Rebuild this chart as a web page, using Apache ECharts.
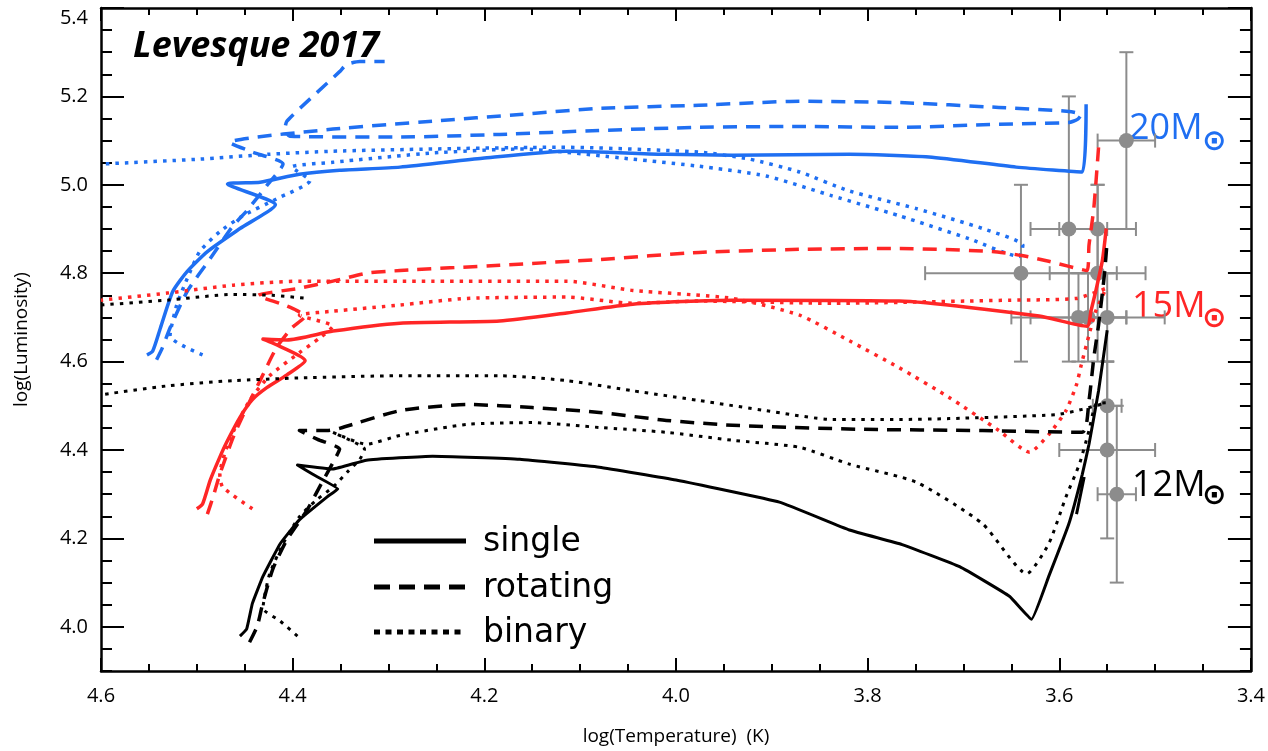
<!DOCTYPE html>
<html>
<head>
<meta charset="utf-8">
<title>HR diagram – evolutionary tracks</title>
<script src="https://cdn.jsdelivr.net/npm/echarts/dist/echarts.min.js"></script>
<style>
  html, body { margin: 0; padding: 0; background: #fff; }
  #chart { width: 1268px; height: 751px; }
</style>
</head>
<body>
<div id="chart"></div>
<script>
// ---- axis ticks ----
const xTicks = [3.4, 3.6, 3.8, 4.0, 4.2, 4.4, 4.6];
const yTicks = [4.0, 4.2, 4.4, 4.6, 4.8, 5.0, 5.2, 5.4];

// ---- 20 Msun tracks (log T, log L) ----
const m20SingleT = [4.552,4.546,4.538,4.525,4.510,4.489,4.455,4.418,4.468,4.434,4.393,4.351,4.288,4.202,4.114,4.010,3.941,3.819,3.736,3.645,3.576,3.572];
const m20SingleL = [4.615,4.624,4.676,4.759,4.804,4.849,4.901,4.955,5.002,5.006,5.024,5.033,5.040,5.060,5.076,5.069,5.067,5.069,5.063,5.040,5.029,5.182];

const m20RotT = [4.542,4.536,4.528,4.510,4.486,4.463,4.448,4.427,4.410,4.442,4.466,4.358,4.254,4.163,4.080,3.976,3.871,3.767,3.663,3.590,3.577,3.581,3.590,3.663,3.767,3.871,3.976,4.080,4.184,4.288,4.403,4.408,4.406,4.379,4.351,4.344,4.330,4.304];
const m20RotL = [4.604,4.631,4.676,4.759,4.833,4.905,4.941,4.998,5.047,5.074,5.096,5.126,5.144,5.159,5.173,5.180,5.189,5.186,5.175,5.166,5.159,5.148,5.141,5.137,5.130,5.132,5.130,5.123,5.114,5.108,5.110,5.126,5.144,5.200,5.256,5.272,5.279,5.279];

const m20BinT = [4.494,4.528,4.521,4.510,4.497,4.476,4.452,4.417,4.382,4.401,4.358,4.254,4.163,4.045,3.976,3.906,3.837,3.767,3.694,3.642,3.638,3.680,3.749,3.819,3.871,3.923,3.976,4.121,4.254,4.358,4.426,4.497,4.600];
const m20BinL = [4.615,4.658,4.728,4.788,4.849,4.894,4.930,4.968,5.009,5.040,5.051,5.072,5.081,5.058,5.042,5.020,4.975,4.930,4.878,4.838,4.863,4.901,4.946,4.986,5.029,5.058,5.074,5.085,5.081,5.076,5.069,5.058,5.047];

// ---- 15 Msun tracks ----
const m15SingleT = [4.500,4.494,4.486,4.476,4.469,4.455,4.442,4.427,4.406,4.387,4.421,4.431,4.406,4.358,4.288,4.184,4.114,4.045,3.941,3.767,3.621,3.571,3.567,3.562,3.555,3.551];
const m15SingleL = [4.267,4.278,4.332,4.384,4.417,4.474,4.514,4.541,4.570,4.602,4.642,4.651,4.649,4.669,4.687,4.692,4.710,4.730,4.739,4.737,4.703,4.680,4.714,4.759,4.829,4.901];

const m15RotT = [4.489,4.483,4.476,4.462,4.448,4.434,4.417,4.401,4.387,4.396,4.411,4.429,4.436,4.393,4.358,4.323,4.288,4.184,4.080,3.976,3.871,3.767,3.670,3.639,3.611,3.571,3.569,3.564,3.559];
const m15RotL = [4.255,4.294,4.345,4.429,4.496,4.557,4.631,4.676,4.703,4.716,4.730,4.743,4.750,4.766,4.782,4.800,4.806,4.818,4.831,4.847,4.854,4.856,4.849,4.840,4.827,4.806,4.863,4.946,5.085];

const m15BinT = [4.442,4.473,4.476,4.466,4.445,4.424,4.393,4.372,4.358,4.393,4.358,4.288,4.218,4.114,4.045,3.976,3.837,3.652,3.582,3.551,3.562,3.569,3.577,3.582,3.593,3.611,3.631,3.663,3.715,3.767,3.819,3.871,3.941,4.045,4.114,4.254,4.393,4.462,4.531,4.600];
const m15BinL = [4.267,4.316,4.345,4.422,4.512,4.568,4.620,4.653,4.680,4.705,4.714,4.728,4.743,4.746,4.732,4.737,4.732,4.739,4.743,4.766,4.714,4.660,4.593,4.548,4.489,4.435,4.395,4.444,4.519,4.586,4.647,4.705,4.743,4.761,4.782,4.782,4.782,4.773,4.755,4.739];

// ---- 12 Msun tracks (null = gap between segments) ----
const m12SingleT = [4.455,4.448,4.442,4.431,4.413,4.393,4.364,4.353,4.379,4.395,4.358,4.323,4.254,4.163,4.080,4.000,3.892,3.819,3.764,3.704,3.652,3.629,3.611,3.590,3.576,3.569,3.559,3.550,null,3.582,3.574];
const m12SingleL = [3.979,3.995,4.053,4.114,4.188,4.242,4.294,4.312,4.345,4.366,4.357,4.377,4.386,4.379,4.361,4.332,4.282,4.219,4.186,4.136,4.069,4.017,4.114,4.233,4.345,4.413,4.534,4.671,null,4.255,4.339];

const m12RotT = [4.445,4.437,4.432,4.421,4.406,4.385,4.372,4.356,4.351,4.374,4.393,4.364,4.351,4.288,4.218,4.150,4.080,4.010,3.941,3.809,3.680,3.576,3.569,3.564,3.559,3.553,3.550];
const m12RotL = [3.965,4.001,4.046,4.129,4.197,4.264,4.316,4.379,4.402,4.424,4.444,4.444,4.449,4.489,4.503,4.496,4.485,4.467,4.456,4.447,4.444,4.440,4.512,4.608,4.683,4.795,4.874];

const m12BinT = [4.395,4.413,4.431,4.429,4.424,4.410,4.393,4.375,4.358,4.343,4.330,4.325,4.340,4.358,4.323,4.288,4.218,4.150,4.080,4.010,3.941,3.871,3.819,3.749,3.680,3.634,3.611,3.593,3.579,3.569,3.562,3.551,3.576,3.603,3.715,3.767,3.837,3.906,3.976,4.045,4.114,4.184,4.288,4.393,4.462,4.531,4.600,null,4.600,4.531,4.462,4.421,4.385];
const m12BinL = [3.979,4.013,4.042,4.073,4.120,4.188,4.249,4.287,4.316,4.350,4.379,4.402,4.422,4.440,4.413,4.433,4.458,4.462,4.451,4.440,4.422,4.406,4.368,4.327,4.233,4.120,4.188,4.294,4.368,4.444,4.503,4.507,4.492,4.480,4.471,4.469,4.469,4.489,4.512,4.534,4.557,4.568,4.568,4.563,4.557,4.545,4.525,null,4.728,4.739,4.752,4.750,4.743];

// ---- observed red supergiants with uncertainties ----
const starT    = [3.53, 3.59, 3.56, 3.64, 3.56, 3.58, 3.57, 3.55, 3.55,  3.55, 3.54];
const starL    = [5.10, 4.90, 4.90, 4.80, 4.80, 4.70, 4.70, 4.70, 4.50,  4.40, 4.30];
const starTErr = [0.03, 0.04, 0.04, 0.10, 0.05, 0.05, 0.08, 0.02, 0.015, 0.05, 0.02];
const starLErr = [0.20, 0.30, 0.10, 0.20, 0.20, 0.10, 0.10, 0.10, 0.10,  0.20, 0.20];

// ---- labels ----
const legendNames = ['single', 'rotating', 'binary'];
const massLabels = ['20M', '15M', '12M'];

// ---------------------------------------------------------------
const BLUE = '#1f6ff2', RED = '#ff2626', BLACK = '#000000', GREY = '#8c8c8c';
const FONT = "'Open Sans', 'DejaVu Sans', sans-serif";
const KEY_FONT = "33px 'DejaVu Sans', sans-serif";

const DASH = [14, 9];
const DOT = [3.5, 6];

function zip(ts, ls) {
  return ts.map((t, i) => (t === null || ls[i] === null) ? ['-', '-'] : [t, ls[i]]);
}

function track(name, ts, ls, color, width, dash, smooth) {
  return {
    name: name,
    type: 'line',
    data: zip(ts, ls),
    showSymbol: false,
    symbol: 'none',
    smooth: smooth === undefined ? 0.2 : smooth,
    connectNulls: false,
    clip: true,
    z: 3,
    silent: true,
    lineStyle: { color: color, width: width, type: dash || 'solid', cap: 'butt', join: 'round' }
  };
}

const starData = starT.map((t, i) => [t, starL[i], starTErr[i], starLErr[i]]);

function renderErr(params, api) {
  const t = api.value(0), l = api.value(1), dt = api.value(2), dl = api.value(3);
  const c = api.coord([t, l]);
  const xa = api.coord([t + dt, l])[0];
  const xb = api.coord([t - dt, l])[0];
  const ya = api.coord([t, l + dl])[1];
  const yb = api.coord([t, l - dl])[1];
  const cap = 7;
  const st = { stroke: GREY, lineWidth: 2 };
  return {
    type: 'group',
    children: [
      { type: 'line', shape: { x1: xa, y1: c[1], x2: xb, y2: c[1] }, style: st },
      { type: 'line', shape: { x1: c[0], y1: ya, x2: c[0], y2: yb }, style: st },
      { type: 'line', shape: { x1: xa, y1: c[1] - cap, x2: xa, y2: c[1] + cap }, style: st },
      { type: 'line', shape: { x1: xb, y1: c[1] - cap, x2: xb, y2: c[1] + cap }, style: st },
      { type: 'line', shape: { x1: c[0] - cap, y1: ya, x2: c[0] + cap, y2: ya }, style: st },
      { type: 'line', shape: { x1: c[0] - cap, y1: yb, x2: c[0] + cap, y2: yb }, style: st },
      { type: 'circle', shape: { cx: c[0], cy: c[1], r: 7.5 }, style: { fill: GREY } }
    ]
  };
}

const axisLine = { show: true, onZero: false, lineStyle: { color: BLACK, width: 2.5 } };
const tickStyle = { color: BLACK, width: 2 };
const labelStyle = { color: BLACK, fontSize: 20, fontFamily: FONT };

function xAxisDef(position, major, withLabels) {
  const a = {
    type: 'value', min: 3.4, max: 4.6, inverse: true, position: position,
    axisLine: major ? axisLine : { show: false },
    splitLine: { show: false },
    axisTick: { show: true, inside: true, length: major ? 13 : 7, lineStyle: tickStyle },
    axisLabel: { show: false }
  };
  if (major) {
    a.axisTick.customValues = xTicks;
    a.axisLabel = withLabels
      ? Object.assign({ show: true, customValues: xTicks, margin: 15, formatter: v => v.toFixed(1) }, labelStyle)
      : { show: false, customValues: xTicks };
  } else {
    a.interval = 0.05;
  }
  if (withLabels) {
    a.name = 'log(Temperature)  (K)';
    a.nameLocation = 'middle';
    a.nameGap = 56;
    a.nameTextStyle = { color: BLACK, fontSize: 19, fontFamily: FONT };
  }
  return a;
}

function yAxisDef(position, major, withLabels) {
  const a = {
    type: 'value', min: 3.9, max: 5.4, position: position,
    axisLine: major ? axisLine : { show: false },
    splitLine: { show: false },
    axisTick: { show: true, inside: true, length: major ? 23 : 11, lineStyle: tickStyle },
    axisLabel: { show: false }
  };
  if (major) {
    a.axisTick.customValues = yTicks;
    a.axisLabel = withLabels
      ? Object.assign({ show: true, customValues: yTicks, margin: 13, verticalAlignMaxLabel: 'top',
          formatter: v => v.toFixed(1) }, labelStyle)
      : { show: false, customValues: yTicks };
  } else {
    a.interval = 0.05;
  }
  if (withLabels) {
    a.name = 'log(Luminosity)';
    a.nameLocation = 'middle';
    a.nameGap = 70;
    a.nameTextStyle = { color: BLACK, fontSize: 19, fontFamily: FONT };
  }
  return a;
}

// key for the three model families (black samples + labels)
const keyRows = [
  { y: 541, dash: null },
  { y: 587, dash: [16, 9] },
  { y: 632, dash: [6, 5.5] }
];
const keyGraphics = [];
keyRows.forEach((row, i) => {
  keyGraphics.push({
    type: 'line', silent: true,
    shape: { x1: 374, y1: row.y, x2: 466, y2: row.y },
    style: { stroke: BLACK, lineWidth: 5, lineDash: row.dash || null }
  });
  keyGraphics.push({
    type: 'text', silent: true, x: 483, y: row.y + 1,
    style: { text: legendNames[i], font: KEY_FONT, fill: BLACK, verticalAlign: 'middle', align: 'left' }
  });
});

const chart = echarts.init(document.getElementById('chart'), null, { renderer: 'canvas' });

const option = {
  backgroundColor: '#ffffff',
  animation: false,
  grid: { left: 101, right: 16, top: 8, bottom: 76, containLabel: false },
  title: {
    text: 'Levesque 2017',
    left: 128, top: 24,
    textStyle: { fontFamily: FONT, fontSize: 36, fontWeight: 'bold', fontStyle: 'italic', color: BLACK }
  },
  xAxis: [
    xAxisDef('bottom', true, true),
    xAxisDef('bottom', false, false),
    xAxisDef('top', true, false),
    xAxisDef('top', false, false)
  ],
  yAxis: [
    yAxisDef('left', true, true),
    yAxisDef('left', false, false),
    yAxisDef('right', true, false),
    yAxisDef('right', false, false)
  ],
  series: [
    {
      name: 'stars', type: 'custom', renderItem: renderErr, data: starData,
      encode: { x: 0, y: 1 }, z: 1, silent: true
    },
    track('20 single', m20SingleT, m20SingleL, BLUE, 3.5),
    track('20 rotating', m20RotT, m20RotL, BLUE, 3.5, DASH),
    track('20 binary', m20BinT, m20BinL, BLUE, 3.5, DOT),
    track('15 single', m15SingleT, m15SingleL, RED, 3.5),
    track('15 rotating', m15RotT, m15RotL, RED, 3.5, DASH),
    track('15 binary', m15BinT, m15BinL, RED, 3.5, DOT),
    track('12 single', m12SingleT, m12SingleL, BLACK, 3, null, 0.1),
    track('12 rotating', m12RotT, m12RotL, BLACK, 3.5, DASH),
    track('12 binary', m12BinT, m12BinL, BLACK, 3, DOT)
  ],
  graphic: keyGraphics.concat([
    { type: 'text', left: 1129, top: 111, style: { text: massLabels[0], fill: BLUE, font: "36px " + FONT } },
    { type: 'text', left: 1202, top: 128, style: { text: '⊙', fill: BLUE, font: "bold 29px 'DejaVu Sans'" } },
    { type: 'text', left: 1132, top: 289, style: { text: massLabels[1], fill: RED, font: "36px " + FONT } },
    { type: 'text', left: 1202, top: 305, style: { text: '⊙', fill: RED, font: "bold 29px 'DejaVu Sans'" } },
    { type: 'text', left: 1132, top: 468, style: { text: massLabels[2], fill: BLACK, font: "36px " + FONT } },
    { type: 'text', left: 1202, top: 482, style: { text: '⊙', fill: BLACK, font: "bold 29px 'DejaVu Sans'" } }
  ])
};

chart.setOption(option);
</script>
</body>
</html>
